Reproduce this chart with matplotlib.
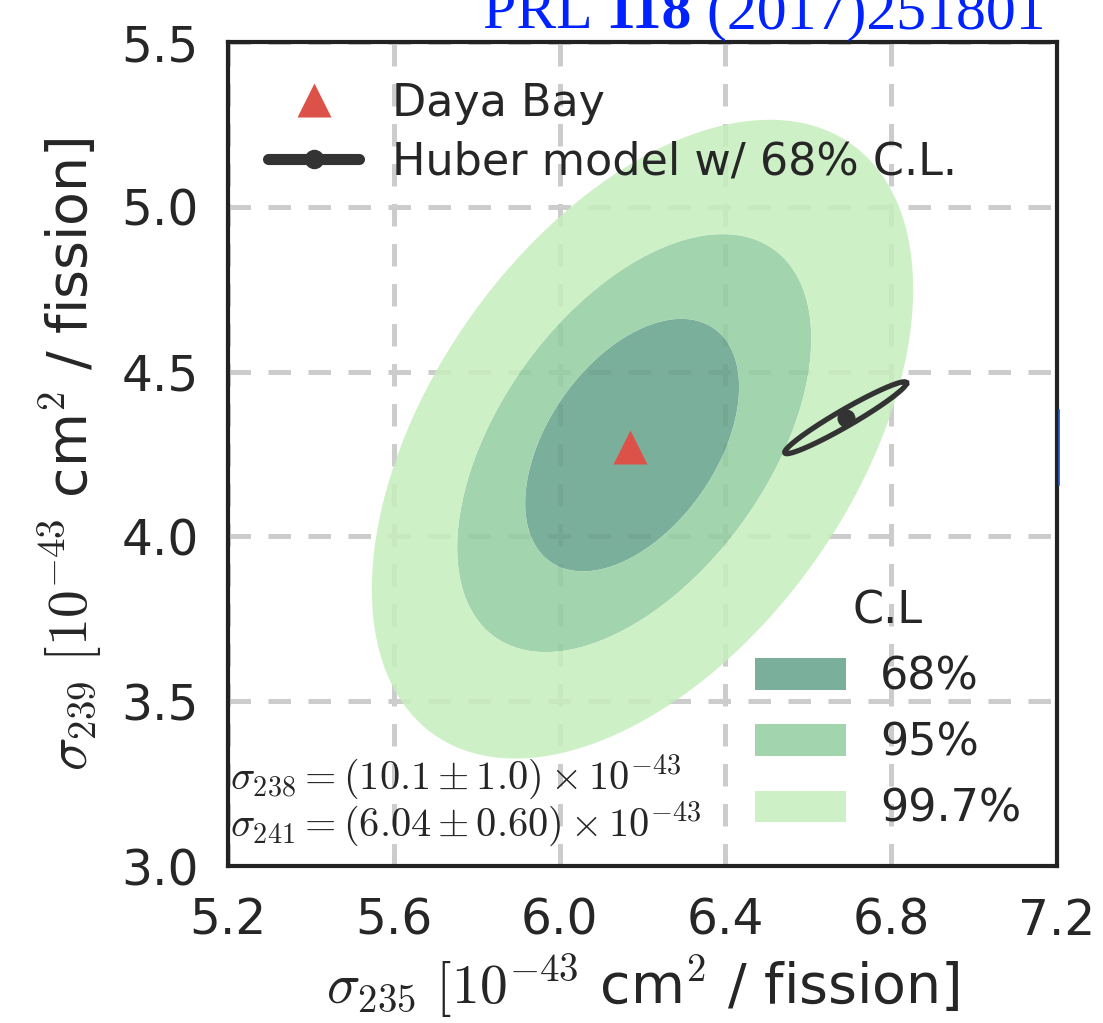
import numpy as np
import matplotlib
matplotlib.use("Agg")
import matplotlib.pyplot as plt
from matplotlib.path import Path
from matplotlib.patches import PathPatch, Patch
from matplotlib.lines import Line2D

plt.rcParams["font.family"] = "DejaVu Sans"
plt.rcParams["mathtext.fontset"] = "cm"

# Daya Bay allowed regions (sigma_235, sigma_239), one ellipse per C.L.
cl_labels = ["68%", "95%", "99.7%"]
cl_x_center = [6.175, 6.180, 6.200]
cl_y_center = [4.277, 4.283, 4.295]
cl_x_halfwidth = [0.258, 0.427, 0.653]
cl_y_halfwidth = [0.383, 0.634, 0.969]
cl_rho = [0.46, 0.50, 0.47]

# best fit
dyb_x, dyb_y = 6.17, 4.27

# Huber model prediction with 68% C.L. ellipse
huber_x, huber_y = 6.69, 4.36
huber_x_halfwidth, huber_y_halfwidth, huber_rho = 0.147, 0.109, 0.964

annot_lines = [r"$\sigma_{238} = (10.1 \pm 1.0) \times 10^{-43}$",
               r"$\sigma_{241} = (6.04 \pm 0.60) \times 10^{-43}$"]

x_ticks = [5.2, 5.6, 6.0, 6.4, 6.8, 7.2]
y_ticks = [3.0, 3.5, 4.0, 4.5, 5.0, 5.5]

fill_colors = ["#68a48e", "#95cfa2", "#c8eebe"]
fill_alpha = 0.88
text_color = "#262626"
red = "#dc5148"
dark = "#333333"


def ellipse(cx, cy, hx, hy, rho, n=361):
    t = np.linspace(0, 2 * np.pi, n)
    x = cx + hx * np.cos(t)
    y = cy + hy * (rho * np.cos(t) + np.sqrt(1 - rho ** 2) * np.sin(t))
    return np.column_stack([x, y])


def loop_codes(n):
    return [Path.MOVETO] + [Path.LINETO] * (n - 2) + [Path.CLOSEPOLY]


fig = plt.figure(figsize=(11.03, 10.23), dpi=100)
ax = fig.add_axes([228 / 1103, 1 - 866 / 1023, 829 / 1103, 824 / 1023])

# filled bands (ring between consecutive levels)
loops = [ellipse(cl_x_center[i], cl_y_center[i], cl_x_halfwidth[i],
                 cl_y_halfwidth[i], cl_rho[i]) for i in range(len(cl_labels))]
for i in range(len(loops)):
    verts = [loops[i]]
    codes = loop_codes(len(loops[i]))
    if i > 0:
        verts.append(loops[i - 1][::-1])
        codes = codes + loop_codes(len(loops[i - 1]))
    patch = PathPatch(Path(np.vstack(verts), codes), facecolor=fill_colors[i],
                      edgecolor="none", alpha=fill_alpha, zorder=1)
    ax.add_patch(patch)

# Huber ellipse
hub = ellipse(huber_x, huber_y, huber_x_halfwidth, huber_y_halfwidth, huber_rho)
ax.plot(hub[:, 0], hub[:, 1], color=dark, lw=3.8, zorder=3)
ax.plot(huber_x, huber_y, "o", color=dark, ms=12, zorder=3)

# best fit point
ax.plot(dyb_x, dyb_y, "^", color=red, ms=24, mec="none", zorder=4)

ax.set_xlim(5.2, 7.2)
ax.set_ylim(3.0, 5.5)
ax.set_xticks(x_ticks)
ax.set_yticks(y_ticks)
ax.set_xticklabels([f"{v:.1f}" for v in x_ticks])
ax.set_yticklabels([f"{v:.1f}" for v in y_ticks])
ax.tick_params(length=0, labelsize=35, colors=text_color, pad=22)
ax.tick_params(axis="y", pad=21)
ax.set_axisbelow(True)
ax.grid(True, color="#cccccc", lw=3.6, linestyle=(0, (4.5, 3.5)))
for s in ax.spines.values():
    s.set_linewidth(3.0)
    s.set_color("#222222")

ax.set_xlabel(r"$\sigma_{235}\ [10^{-43}$ cm$^2$ / fission]", fontsize=40,
              color=text_color, labelpad=6)
ax.set_ylabel(r"$\sigma_{239}\ [10^{-43}$ cm$^2$ / fission]", fontsize=40,
              color=text_color, labelpad=12)

# fixed isotopes
ax.text(0.003, 0.108, annot_lines[0], transform=ax.transAxes, fontsize=29,
        color=text_color, va="center", ha="left", zorder=2)
ax.text(0.003, 0.050, annot_lines[1], transform=ax.transAxes, fontsize=29,
        color=text_color, va="center", ha="left", zorder=2)

# legends
h1 = [Line2D([], [], ls="none", marker="^", color=red, mec="none", ms=24),
      Line2D([], [], color=dark, lw=8, marker="o", ms=13, solid_capstyle="round")]
leg1 = ax.legend(h1, ["Daya Bay", "Huber model w/ 68% C.L."], loc="upper left",
                 bbox_to_anchor=(0.0, 1.0), frameon=False, fontsize=32,
                 handlelength=2.05, handletextpad=0.75, labelspacing=0.35,
                 labelcolor=text_color)
ax.add_artist(leg1)

h2 = [Patch(facecolor=c, edgecolor="none", alpha=fill_alpha) for c in fill_colors]
leg2 = ax.legend(h2, cl_labels, title="C.L", loc="lower right",
                 bbox_to_anchor=(1.005, -0.006), frameon=False, fontsize=32,
                 title_fontsize=32, handlelength=2.05, handleheight=0.72,
                 handletextpad=0.77, labelspacing=0.52, labelcolor=text_color)
leg2.get_title().set_color(text_color)

# reference
fig.canvas.draw()
renderer = fig.canvas.get_renderer()
x_px = 483
for txt, weight in [("PRL ", "normal"), ("118", "bold"), (" (2017)251801", "normal")]:
    t = fig.text(x_px / 1103, 1 - 28 / 1023, txt, fontsize=43, color="#0022ff",
                 family="Liberation Serif", weight=weight, ha="left",
                 va="baseline")
    x_px = t.get_window_extent(renderer).x1

fig.add_artist(Line2D([1059 / 1103, 1059 / 1103], [1 - 485 / 1023, 1 - 410 / 1023],
                      color="#2255cc", lw=1.2))

fig.savefig("out.png", dpi=100)
